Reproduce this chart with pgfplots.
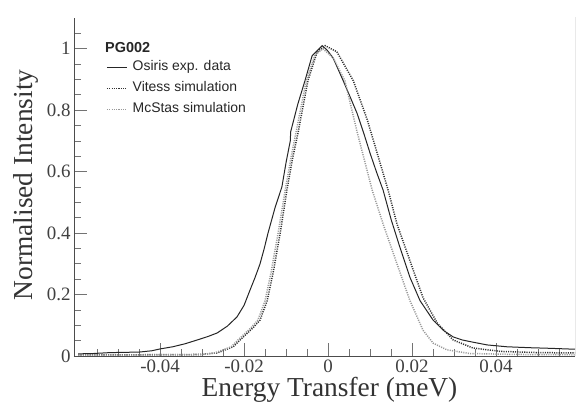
\documentclass[border=0pt]{standalone}
\usepackage{fontspec}
\setmainfont{Liberation Serif}
\newfontfamily\sansf{Liberation Sans}
\usepackage{pgfplots}
\pgfplotsset{compat=1.18}

\begin{document}
\begin{tikzpicture}
\begin{axis}[
    scale only axis, width=501bp, height=338bp,
    xmin=-0.0605, xmax=0.0588, ymin=0, ymax=1.1,
    scaled x ticks=false, scaled y ticks=false,
    axis x line*=bottom, axis y line*=left,
    axis line style={draw=black!70, line width=0.8bp},
    tick align=inside,
    major tick length=13bp, minor tick length=7bp,
    every tick/.style={draw=black!55, line width=0.7bp},
    xtick={-0.04,-0.02,0,0.02,0.04},
    xticklabels={-0.04,-0.02,0,0.02,0.04},
    minor xtick={-0.055,-0.05,-0.045,-0.035,-0.03,-0.025,-0.015,-0.01,-0.005,0.005,0.01,0.015,0.025,0.03,0.035,0.045,0.05,0.055},
    ytick={0,0.2,0.4,0.6,0.8,1},
    yticklabels={0,0.2,0.4,0.6,0.8,1},
    minor ytick={0.05,0.1,0.15,0.25,0.3,0.35,0.45,0.5,0.55,0.65,0.7,0.75,0.85,0.9,0.95,1.05},
    ticklabel style={font=\fontsize{19}{22}\selectfont, text=black!75},
    xlabel={Energy Transfer (meV)},
    ylabel={Normalised Intensity},
    label style={font=\fontsize{27.5}{30}\selectfont, text=black!80},
    xlabel style={at={([yshift=-40bp]axis description cs:0.51,0)}, anchor=base},
    ylabel style={at={([xshift=-41bp]axis description cs:0,0.506)}, anchor=base},
    legend cell align=left,
    legend style={draw=none, fill=none, inner sep=0pt,
        at={(rel axis cs:0.0639,0.877)}, anchor=north west,
        font=\sansf\fontsize{14}{16}\selectfont, text=black!85,
        row sep=6bp, column sep=4bp,
        nodes={inner sep=1bp, text height=10bp, text depth=3bp}},
    legend image code/.code={\draw[#1] (0bp,0bp) -- (20bp,0bp);},
]
\addplot[draw=black!85, line width=1bp] coordinates {
(-0.0595,0.007) (-0.0560,0.008) (-0.0520,0.011) (-0.0480,0.012) (-0.0448,0.013)
(-0.0420,0.017) (-0.0400,0.023) (-0.0370,0.030) (-0.0340,0.040) (-0.0305,0.055)
(-0.0285,0.064) (-0.0264,0.075) (-0.0240,0.097) (-0.0217,0.127) (-0.0200,0.165)
(-0.0186,0.214) (-0.0174,0.255) (-0.0162,0.300) (-0.0152,0.350) (-0.0143,0.400)
(-0.0126,0.484) (-0.0110,0.550) (-0.0100,0.630) (-0.0090,0.700) (-0.0089,0.730)
(-0.0072,0.820) (-0.0055,0.896) (-0.0038,0.977) (-0.0025,0.995) (-0.0014,1.010)
(-0.0002,0.995) (0.0012,0.970) (0.0036,0.896) (0.0052,0.845) (0.0069,0.790)
(0.0085,0.725) (0.0100,0.660) (0.0115,0.600) (0.0131,0.540) (0.0150,0.445)
(0.0171,0.354) (0.0195,0.256) (0.0219,0.180) (0.0250,0.117) (0.0275,0.083)
(0.0298,0.062) (0.0320,0.052) (0.0345,0.045) (0.0379,0.036) (0.0426,0.030)
(0.0480,0.027) (0.0529,0.025) (0.0588,0.022)
};
\addlegendentry{Osiris exp. data}
\addplot[draw=black!80, line width=1.5bp, dash pattern=on 1.1bp off 1.2bp] coordinates {
(-0.0595,0.004) (-0.0450,0.004) (-0.0305,0.005) (-0.0264,0.010) (-0.0226,0.030)
(-0.0202,0.062) (-0.0180,0.090) (-0.0162,0.117) (-0.0145,0.180) (-0.0131,0.270)
(-0.0114,0.400) (-0.0098,0.540) (-0.0085,0.640) (-0.0071,0.730) (-0.0048,0.896)
(-0.0026,0.990) (-0.0007,1.010) (0.0021,0.990) (0.0060,0.896) (0.0093,0.770)
(0.0117,0.660) (0.0143,0.540) (0.0164,0.430) (0.0195,0.310) (0.0226,0.190)
(0.0260,0.107) (0.0298,0.052) (0.0345,0.026) (0.0410,0.015) (0.0500,0.011)
(0.0588,0.010)
};
\addlegendentry{Vitess simulation}
\addplot[draw=black!40, line width=1.5bp, dash pattern=on 1.1bp off 1.2bp] coordinates {
(-0.0595,0.003) (-0.0450,0.003) (-0.0305,0.004) (-0.0270,0.010) (-0.0231,0.030)
(-0.0207,0.062) (-0.0185,0.090) (-0.0167,0.117) (-0.0150,0.180) (-0.0136,0.270)
(-0.0119,0.400) (-0.0102,0.540) (-0.0089,0.640) (-0.0076,0.730) (-0.0052,0.896)
(-0.0031,0.980) (-0.0012,1.000) (0.0012,0.970) (0.0040,0.896) (0.0069,0.730)
(0.0087,0.635) (0.0105,0.540) (0.0131,0.430) (0.0164,0.300) (0.0195,0.180)
(0.0226,0.084) (0.0250,0.042) (0.0283,0.020) (0.0338,0.008) (0.0450,0.005)
(0.0588,0.004)
};
\addlegendentry{McStas simulation}
\draw[draw=black!70, line width=0.8bp] (rel axis cs:1,0) -- (rel axis cs:1,1.024);
\node[font=\sansf\bfseries\fontsize{14.5}{16}\selectfont, text=black!85,
      anchor=base west, inner sep=0pt] at (rel axis cs:0.0619,0.899) {PG002};
\end{axis}
\pgfresetboundingbox
\useasboundingbox (-74bp,-47bp) rectangle (504bp,356bp);
\end{tikzpicture}
\end{document}
